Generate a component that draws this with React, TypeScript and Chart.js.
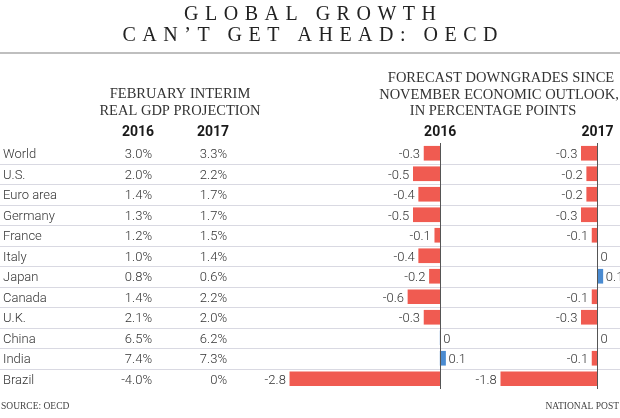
import React, { useEffect, useRef } from "react";
import { Chart, registerables } from "chart.js";

Chart.register(...registerables);

const titleLines = ["GLOBAL GROWTH", "CAN\u2019T GET AHEAD: OECD"];
const leftHeader = ["FEBRUARY INTERIM", "REAL GDP PROJECTION"];
const rightHeader = ["FORECAST DOWNGRADES SINCE", "NOVEMBER ECONOMIC OUTLOOK,", "IN PERCENTAGE POINTS"];
const years = ["2016", "2017"];
const countries = ["World", "U.S.", "Euro area", "Germany", "France", "Italy", "Japan", "Canada", "U.K.", "China", "India", "Brazil"];
const gdp2016 = ["3.0%", "2.0%", "1.4%", "1.3%", "1.2%", "1.0%", "0.8%", "1.4%", "2.1%", "6.5%", "7.4%", "-4.0%"];
const gdp2017 = ["3.3%", "2.2%", "1.7%", "1.7%", "1.5%", "1.4%", "0.6%", "2.2%", "2.0%", "6.2%", "7.3%", "0%"];
const down2016 = [-0.3, -0.5, -0.4, -0.5, -0.1, -0.4, -0.2, -0.6, -0.3, 0, 0.1, -2.8];
const down2017 = [-0.3, -0.2, -0.2, -0.3, -0.1, 0, 0.1, -0.1, -0.3, 0, -0.1, -1.8];
const sourceText = "SOURCE: OECD";
const creditText = "NATIONAL POST";

const RED = "#f05b51";
const BLUE = "#4a8bd1";
const SANS = "Roboto, 'Liberation Sans', sans-serif";
const SERIF = "'Liberation Serif', 'DejaVu Serif', serif";

const colorsFor = (vals: number[]) => vals.map((v) => (v < 0 ? RED : BLUE));

export default function App() {
  const ref = useRef<HTMLCanvasElement>(null);

  useEffect(() => {
    document.body.style.margin = "0";
    const canvas = ref.current;
    if (!canvas) return;

    const infographic = {
      id: "infographic",
      beforeDatasetsDraw(chart: any) {
        const { ctx, scales } = chart;
        const y = scales.y;
        ctx.save();
        ctx.strokeStyle = "#d9d9e2";
        ctx.lineWidth = 1;
        for (let i = 1; i < countries.length; i++) {
          const yy = Math.round((y.getPixelForValue(i - 1) + y.getPixelForValue(i)) / 2) + 0.5;
          ctx.beginPath();
          ctx.moveTo(0, yy);
          ctx.lineTo(chart.width, yy);
          ctx.stroke();
        }
        ctx.restore();
      },
      afterDatasetsDraw(chart: any) {
        const { ctx, scales, chartArea } = chart;
        const y = scales.y;
        const W = chart.width;
        ctx.save();

        // title
        ctx.fillStyle = "#222";
        ctx.font = `20px ${SERIF}`;
        ctx.textAlign = "center";
        ctx.textBaseline = "alphabetic";
        (ctx as any).letterSpacing = "6.5px";
        ctx.fillText(titleLines[0], W / 2 + 3.25, 19.5);
        ctx.fillText(titleLines[1], W / 2 + 3.25, 41);
        (ctx as any).letterSpacing = "0px";

        // rule
        ctx.strokeStyle = "#aaaaaa";
        ctx.lineWidth = 1.5;
        ctx.beginPath();
        ctx.moveTo(0, 53);
        ctx.lineTo(W, 53);
        ctx.stroke();

        // section headers
        ctx.fillStyle = "#333";
        ctx.font = `14.5px ${SERIF}`;
        ctx.fillText(leftHeader[0], 180, 98.3);
        ctx.fillText(leftHeader[1], 180, 115);
        ctx.fillText(rightHeader[0], 501, 82.3);
        ctx.fillText(rightHeader[1], 499, 99);
        ctx.fillText(rightHeader[2], 493, 115);

        // year headers
        const z1 = scales.x1.getPixelForValue(0);
        const z2 = scales.x2.getPixelForValue(0);
        ctx.fillStyle = "#1a1a1a";
        ctx.font = `bold 14px ${SANS}`;
        ctx.fillText(years[0], 138, 136);
        ctx.fillText(years[1], 213, 136);
        ctx.fillText(years[0], z1, 136);
        ctx.fillText(years[1], z2, 136);

        // table rows
        ctx.font = `300 13px ${SANS}`;
        ctx.fillStyle = "#333";
        countries.forEach((c, i) => {
          const yy = y.getPixelForValue(i) + 5;
          ctx.textAlign = "left";
          ctx.fillText(c, 3, yy);
          ctx.textAlign = "right";
          ctx.fillText(gdp2016[i], 152, yy);
          ctx.fillText(gdp2017[i], 227, yy);
        });

        // bar value labels
        const sets = [down2016, down2017];
        sets.forEach((vals, d) => {
          const meta = chart.getDatasetMeta(d);
          vals.forEach((v, i) => {
            const bar = meta.data[i];
            const yy = y.getPixelForValue(i) + 5;
            if (v < 0) {
              ctx.textAlign = "right";
              ctx.fillText(String(v), bar.x - 4, yy);
            } else {
              ctx.textAlign = "left";
              ctx.fillText(String(v), bar.x + 3, yy);
            }
          });
        });

        // zero axes
        ctx.strokeStyle = "#555";
        ctx.lineWidth = 1;
        [z1, z2].forEach((z) => {
          const xx = Math.round(z) + 0.5;
          ctx.beginPath();
          ctx.moveTo(xx, chartArea.top);
          ctx.lineTo(xx, chartArea.bottom);
          ctx.stroke();
        });

        // footer
        ctx.fillStyle = "#444";
        ctx.font = `9.5px ${SERIF}`;
        ctx.textAlign = "left";
        ctx.fillText(sourceText, 1, 409);
        ctx.textAlign = "right";
        ctx.fillText(creditText, 619, 409);

        ctx.restore();
      },
    };

    const chart = new Chart(canvas, {
      type: "bar",
      data: {
        labels: countries,
        datasets: [
          {
            label: years[0],
            data: down2016,
            xAxisID: "x1",
            backgroundColor: colorsFor(down2016),
            barThickness: 14,
            grouped: false,
          } as any,
          {
            label: years[1],
            data: down2017,
            xAxisID: "x2",
            backgroundColor: colorsFor(down2017),
            barThickness: 14,
            grouped: false,
          } as any,
        ],
      },
      options: {
        indexAxis: "y",
        animation: false,
        responsive: true,
        maintainAspectRatio: false,
        layout: { padding: { top: 143, bottom: 29, left: 0, right: 0 } },
        plugins: { legend: { display: false }, tooltip: { enabled: false }, title: { display: false } },
        scales: {
          y: { type: "category", display: false, offset: true },
          x1: { type: "linear", display: false, min: -8.2, max: 3.35 },
          x2: { type: "linear", display: false, min: -11.13, max: 0.42 },
        },
      },
      plugins: [infographic],
    });

    return () => chart.destroy();
  }, []);

  return (
    <div style={{ position: "relative", width: 620, height: 418, background: "#fff" }}>
      <canvas ref={ref} />
    </div>
  );
}
